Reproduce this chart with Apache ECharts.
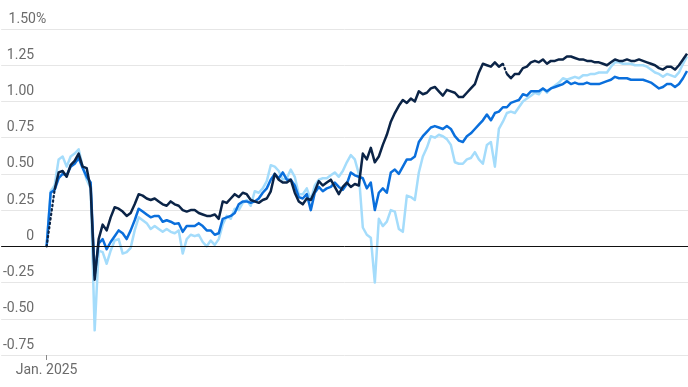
<!DOCTYPE html>
<html>
<head>
<meta charset="utf-8">
<script src="https://cdn.jsdelivr.net/npm/echarts@6/dist/echarts.min.js"></script>
<style>
  html, body { margin: 0; padding: 0; background: #ffffff; }
  #chart { width: 688px; height: 387px; }
</style>
</head>
<body>
<div id="chart"></div>
<script>
// Category label for the x axis (first trading day shown)
const xLabel = 'Jan. 2025';

// Y-axis ticks and their labels
const yTicks = [-0.75, -0.5, -0.25, 0, 0.25, 0.5, 0.75, 1.0, 1.25, 1.5];
const yTickLabels = ['-0.75', '-0.50', '-0.25', '0', '0.25', '0.50', '0.75', '1.00', '1.25', '1.50%'];

// Series values (percent), one per observation
const darkBlue = [
  0, null, 0.39, 0.51, 0.52, 0.48, 0.56, 0.59, 0.64, 0.55,
  0.54, 0.40, -0.23, 0.05, 0.15, 0.11, 0.20, 0.27, 0.26, 0.24,
  0.21, 0.23, 0.29, 0.36, 0.35, 0.33, 0.32, 0.33, 0.31, 0.29,
  0.28, 0.31, 0.29, 0.28, 0.25, 0.24, 0.25, 0.25, 0.23, 0.22,
  0.21, 0.21, 0.22, 0.19, 0.31, 0.30, 0.33, 0.36, 0.34, 0.37,
  0.36, 0.32, 0.31, 0.30, 0.32, 0.33, 0.38, 0.50, 0.46, 0.44,
  0.44, 0.46, 0.37, 0.31, 0.29, 0.33, 0.32, 0.38, 0.45, 0.42,
  0.44, 0.46, 0.41, 0.36, 0.41, 0.44, 0.41, 0.43, 0.42, 0.64,
  0.60, 0.68, 0.58, 0.62, 0.70, 0.77, 0.86, 0.92, 0.97, 1.01,
  0.99, 1.02, 1.00, 1.07, 1.05, 1.06, 1.09, 1.10, 1.07, 1.04,
  1.08, 1.07, 1.06, 1.03, 1.03, 1.06, 1.09, 1.12, 1.20, 1.26,
  1.25, 1.24, 1.27, 1.24, 1.26, 1.19, 1.16, 1.19, 1.19, 1.23,
  1.24, 1.27, 1.28, 1.27, 1.29, 1.26, 1.28, 1.28, 1.29, 1.29,
  1.31, 1.31, 1.30, 1.29, 1.29, 1.28, 1.28, 1.27, 1.27, 1.26,
  1.25, 1.27, 1.29, 1.28, 1.28, 1.29, 1.28, 1.28, 1.29, 1.28,
  1.27, 1.26, 1.25, 1.23, 1.22, 1.24, 1.24, 1.22, 1.25, 1.29,
  1.33
];
const midBlue = [
  0, 0.37, 0.39, 0.47, 0.50, 0.49, 0.55, 0.57, 0.61, 0.54,
  0.48, 0.44, -0.20, 0.02, 0.05, -0.02, 0.03, 0.07, 0.11, 0.09,
  0.05, 0.11, 0.18, 0.26, 0.24, 0.22, 0.20, 0.21, 0.21, 0.17,
  0.18, 0.17, 0.155, 0.16, 0.10, 0.14, 0.14, 0.14, 0.16, 0.14,
  0.11, 0.11, 0.08, 0.09, 0.19, 0.20, 0.21, 0.23, 0.29, 0.31,
  0.31, 0.30, 0.31, 0.33, 0.37, 0.40, 0.46, 0.50, 0.47, 0.51,
  0.46, 0.46, 0.42, 0.34, 0.33, 0.36, 0.25, 0.37, 0.41, 0.38,
  0.40, 0.41, 0.44, 0.41, 0.39, 0.43, 0.51, 0.49, 0.48, 0.47,
  0.40, 0.44, 0.25, 0.37, 0.40, 0.37, 0.51, 0.53, 0.50, 0.55,
  0.60, 0.60, 0.62, 0.72, 0.76, 0.79, 0.82, 0.83, 0.82, 0.81,
  0.83, 0.81, 0.76, 0.73, 0.72, 0.76, 0.78, 0.81, 0.84, 0.87,
  0.91, 0.87, 0.92, 0.93, 0.96, 0.96, 0.99, 1.00, 1.01, 1.05,
  1.04, 1.07, 1.07, 1.07, 1.09, 1.07, 1.09, 1.10, 1.11, 1.12,
  1.14, 1.12, 1.13, 1.12, 1.12, 1.13, 1.12, 1.12, 1.12, 1.13,
  1.14, 1.15, 1.17, 1.16, 1.16, 1.16, 1.15, 1.15, 1.15, 1.15,
  1.14, 1.13, 1.11, 1.09, 1.10, 1.12, 1.12, 1.10, 1.12, 1.16,
  1.21
];
const lightBlue = [
  0, 0.38, 0.42, 0.60, 0.62, 0.55, 0.62, 0.64, 0.67, 0.55,
  0.46, 0.40, -0.58, -0.03, -0.04, -0.12, -0.03, 0.04, 0.05, -0.05,
  -0.04, -0.01, 0.11, 0.20, 0.18, 0.16, 0.12, 0.14, 0.12, 0.10,
  0.12, 0.10, 0.09, 0.11, -0.05, 0.05, 0.08, 0.07, 0.08, 0.03,
  0.00, 0.04, 0.01, 0.05, 0.15, 0.21, 0.19, 0.26, 0.25, 0.30,
  0.32, 0.28, 0.38, 0.37, 0.40, 0.45, 0.56, 0.55, 0.52, 0.46,
  0.47, 0.53, 0.48, 0.36, 0.36, 0.40, 0.32, 0.42, 0.46, 0.47,
  0.47, 0.49, 0.51, 0.48, 0.52, 0.58, 0.63, 0.60, 0.50, 0.13,
  0.08, 0.06, -0.25, 0.19, 0.14, 0.17, 0.25, 0.24, 0.12, 0.10,
  0.35, 0.34, 0.32, 0.51, 0.62, 0.68, 0.76, 0.75, 0.77, 0.76,
  0.74, 0.70, 0.58, 0.57, 0.57, 0.60, 0.61, 0.65, 0.60, 0.57,
  0.70, 0.72, 0.55, 0.81, 0.86, 0.92, 0.93, 0.92, 0.96, 1.00,
  1.02, 1.04, 1.06, 1.05, 1.09, 1.06, 1.09, 1.11, 1.13, 1.16,
  1.15, 1.16, 1.17, 1.16, 1.18, 1.18, 1.19, 1.19, 1.20, 1.20,
  1.20, 1.24, 1.27, 1.27, 1.26, 1.26, 1.26, 1.25, 1.25, 1.25,
  1.24, 1.22, 1.20, 1.19, 1.17, 1.19, 1.18, 1.17, 1.20, 1.26,
  1.31
];

// Where the dark series has missing observations bridged by a dotted line
const darkGaps = [[0, 2], [114, 115]];

const COLORS = { dark: '#0b2447', mid: '#0a6fdc', light: '#a4dcfb' };
const FONT = 'Roboto, "Liberation Sans", sans-serif';
const LABEL_COLOR = '#6b6b6b';

function pairs(arr, a, b) {
  const out = [];
  for (let i = a; i <= b; i++) out.push([i, arr[i]]);
  return out;
}

// Solid segments of the dark series, between the gaps
const darkSegments = [];
let start = 0;
darkGaps.forEach(g => {
  if (g[0] > start) darkSegments.push([start, g[0]]);
  start = g[1];
});
darkSegments.push([start, darkBlue.length - 1]);

const lineBase = { type: 'line', showSymbol: false, symbol: 'none', animation: false, silent: true };

const series = [
  Object.assign({}, lineBase, {
    name: 'light', data: pairs(lightBlue, 0, lightBlue.length - 1),
    lineStyle: { color: COLORS.light, width: 2.5, join: 'round' }, z: 2,
    markLine: {
      silent: true, symbol: 'none', animation: false,
      label: { show: false },
      lineStyle: { color: '#111111', width: 1, type: 'solid' },
      data: [{ yAxis: 0 }]
    }
  }),
  Object.assign({}, lineBase, {
    name: 'mid', data: pairs(midBlue, 0, midBlue.length - 1),
    lineStyle: { color: COLORS.mid, width: 2.5, join: 'round' }, z: 3
  })
];
darkSegments.forEach(s => {
  series.push(Object.assign({}, lineBase, {
    name: 'dark', data: pairs(darkBlue, s[0], s[1]),
    lineStyle: { color: COLORS.dark, width: 2.5, join: 'round' }, z: 4
  }));
});
darkGaps.forEach(g => {
  series.push(Object.assign({}, lineBase, {
    name: 'darkGap', data: [[g[0], darkBlue[g[0]]], [g[1], darkBlue[g[1]]]],
    lineStyle: { color: COLORS.dark, width: 2.2, type: [1.5, 3], cap: 'round' }, z: 4
  }));
});

const chart = echarts.init(document.getElementById('chart'), null, { renderer: 'canvas' });
chart.setOption({
  backgroundColor: '#ffffff',
  animation: false,
  grid: { left: 0, right: 0, top: 29, bottom: 32, containLabel: false },
  xAxis: {
    type: 'value',
    min: -11.36,
    max: 160.25,
    axisLine: { show: true, onZero: false, lineStyle: { color: 'rgba(0,0,0,0)', width: 1 } },
    splitLine: { show: false },
    axisTick: { show: true, customValues: [0], length: 5, lineStyle: { color: '#888888', width: 1 } },
    axisLabel: {
      show: true, customValues: [0], margin: 8,
      formatter: () => xLabel,
      color: LABEL_COLOR, fontSize: 14, fontFamily: FONT
    }
  },
  yAxis: {
    type: 'value',
    min: yTicks[0], max: yTicks[yTicks.length - 1], interval: 0.25,
    axisLine: { show: false },
    axisTick: { show: false },
    splitLine: { show: true, lineStyle: { color: '#e6e6e6', width: 1 } },
    axisLabel: {
      inside: true, margin: 0, align: 'left', verticalAlign: 'bottom',
      padding: [0, 0, 3, 0],
      color: LABEL_COLOR, fontSize: 14, fontFamily: FONT,
      formatter: v => {
        const k = yTicks.findIndex(t => Math.abs(t - v) < 1e-9);
        const s = k >= 0 ? yTickLabels[k] : String(v);
        return k === yTicks.length - 1 ? '{w|' + s + '}' : '{n|' + s + '}';
      },
      rich: {
        n: { width: 33, align: 'right', color: LABEL_COLOR, fontSize: 14, fontFamily: FONT },
        w: { width: 45, align: 'right', color: LABEL_COLOR, fontSize: 14, fontFamily: FONT }
      }
    }
  },
  series: series
});
</script>
</body>
</html>
